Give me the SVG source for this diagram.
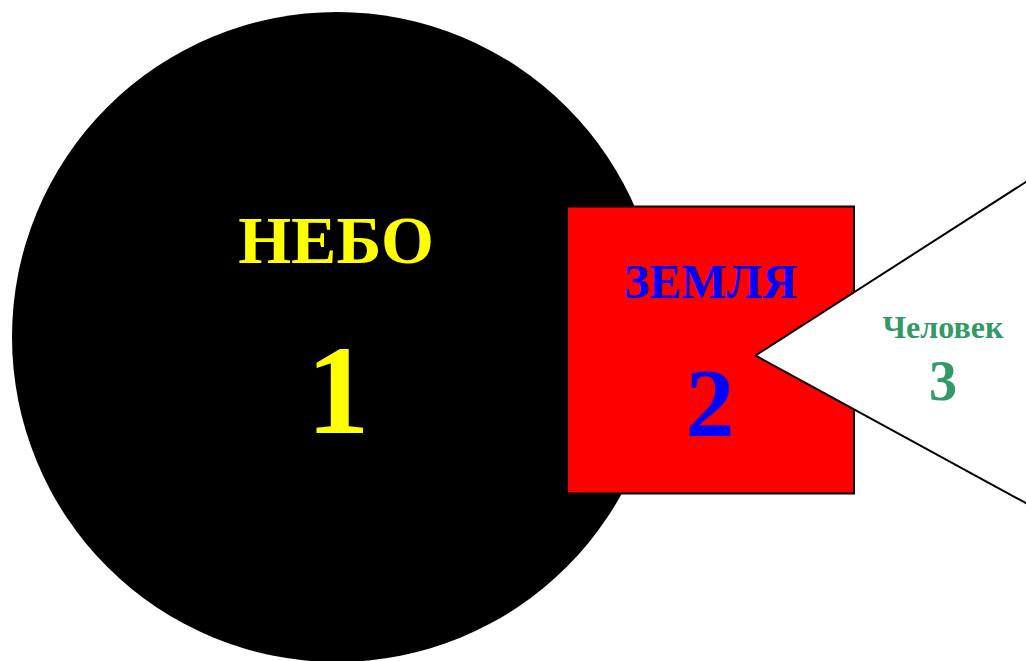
<svg xmlns="http://www.w3.org/2000/svg" width="1026" height="661" viewBox="0 0 1026 661">
<style>
  text { font-family: "Liberation Serif", "Times New Roman", serif; font-weight: bold; text-anchor: middle; }
  .yel { fill: #FFFF00; }
  .blu { fill: #0000FF; }
  .grn { fill: #339966; }
</style>
<rect width="1026" height="661" fill="#FFFFFF"/>
<g id="node-nebo">
  <circle cx="337" cy="337" r="325" fill="#000000"/>
  <text class="yel" x="336" y="263" font-size="68">НЕБО</text>
  <text class="yel" x="338" y="433" font-size="126">1</text>
</g>
<g id="node-zemlya">
  <rect x="567" y="206.5" width="287" height="287" fill="#FF0000" stroke="#000000" stroke-width="2"/>
  <text class="blu" x="710.5" y="298" font-size="48">ЗЕМЛЯ</text>
  <text class="blu" x="710" y="436" font-size="98">2</text>
</g>
<g id="node-chelovek">
  <polygon points="755.5,355.5 1110,128 1110,549" fill="#FFFFFF" stroke="#000000" stroke-width="2" stroke-linejoin="miter"/>
  <text class="grn" x="943" y="338" font-size="32">Человек</text>
  <text class="grn" x="943" y="400" font-size="56">3</text>
</g>
<g id="connectors"></g>
</svg>
